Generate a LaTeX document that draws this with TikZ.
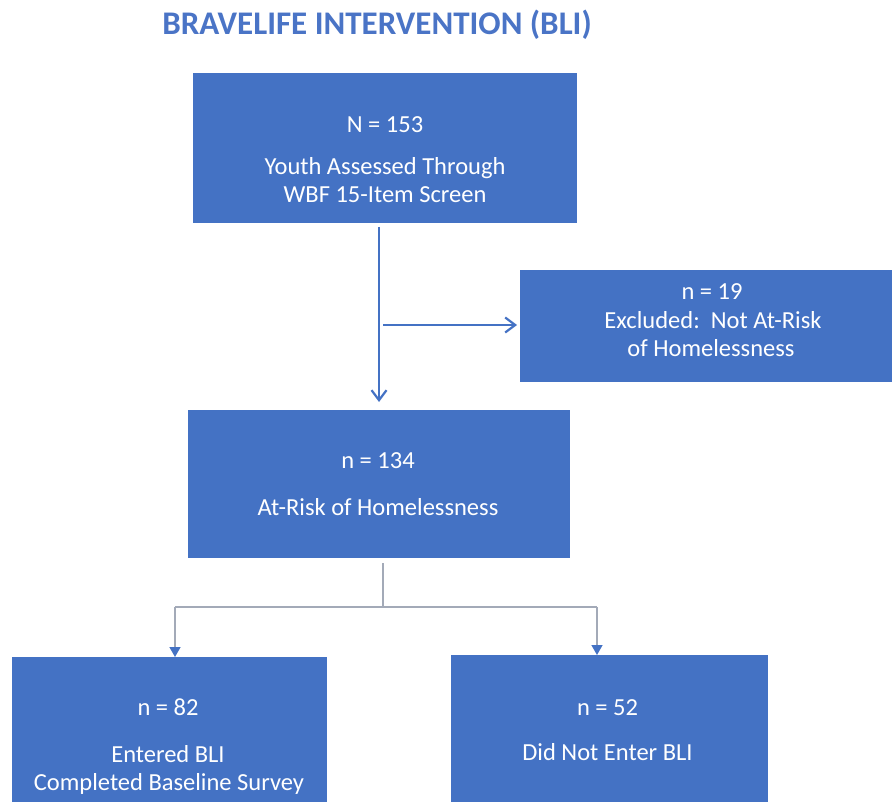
\documentclass[tikz,border=0pt]{standalone}
\usepackage{fontspec}
\setmainfont{Carlito}
\usetikzlibrary{arrows.meta}
\definecolor{boxblue}{HTML}{4472C4}
\definecolor{titleblue}{HTML}{4A74C6}
\definecolor{linegray}{HTML}{A3AAB8}
\tikzset{
  box/.style={fill=boxblue, draw=none, inner sep=0pt, outer sep=0pt},
  txt/.style={text=white, anchor=base, inner sep=0pt, font=\fontsize{24.5}{29}\selectfont},
  barrow/.style={draw=boxblue, line width=2.2pt, -{Straight Barb[length=10pt,width=15pt]}},
  gline/.style={draw=linegray, line width=1.4pt},
  garrow/.style={gline, -{Triangle[length=10pt,width=11pt,color=boxblue]}}
}
\begin{document}
\begin{tikzpicture}[x=1pt,y=-1pt]
\useasboundingbox (0,0) rectangle (892,802);
\clip (0,0) rectangle (892,802);
% title
\node[text=titleblue, anchor=base, inner sep=0pt, font=\fontsize{33}{38}\bfseries\selectfont] (title) at (377,35) {BRAVELIFE INTERVENTION (BLI)};
% boxes
\node[box, minimum width=384pt, minimum height=150pt] (b1) at (385,148) {};
\node[box, minimum width=382pt, minimum height=112pt] (b3) at (711,326) {};
\node[box, minimum width=382pt, minimum height=148pt] (b2) at (379,484) {};
\node[box, minimum width=315pt, minimum height=153pt] (b4) at (169.5,733.5) {};
\node[box, minimum width=317pt, minimum height=155pt] (b5) at (609.5,732.5) {};
% texts
\node[txt] (t1a) at (385,133) {N = 153};
\node[txt] (t1b) at (385,175) {Youth Assessed Through};
\node[txt] (t1c) at (385,203) {WBF 15-Item Screen};
\node[txt] (t3a) at (712,300) {n = 19};
\node[txt] (t3b) at (713,329) {Excluded:\ \ Not At-Risk};
\node[txt] (t3c) at (711,357) {of Homelessness};
\node[txt] (t2a) at (378,468) {n = 134};
\node[txt] (t2b) at (378,515) {At-Risk of Homelessness};
\node[txt] (t4a) at (168,715) {n = 82};
\node[txt] (t4b) at (168,762) {Entered BLI};
\node[txt] (t4c) at (169,790) {Completed Baseline Survey};
\node[txt] (t5a) at (607.5,715) {n = 52};
\node[txt] (t5b) at (607.5,760) {Did Not Enter BLI};
% connectors
\coordinate (j1) at (379,325);
\coordinate (jt) at (383,607);
\coordinate (cl) at (175,607);
\coordinate (cr) at (597,607);
\draw[barrow, shorten <=4pt, shorten >=8pt] (b1.south -| b2.north) -- (b2.north);
\draw[barrow, shorten <=4pt, shorten >=3pt] (j1) -- (j1 -| b3.west);
\draw[gline, shorten <=5pt] (jt |- b2.south) -- (jt);
\draw[gline] (cl) -- (cr);
\draw[garrow] (cl) -- (cl |- b4.north);
\draw[garrow] (cr) -- (cr |- b5.north);
\end{tikzpicture}
\end{document}
